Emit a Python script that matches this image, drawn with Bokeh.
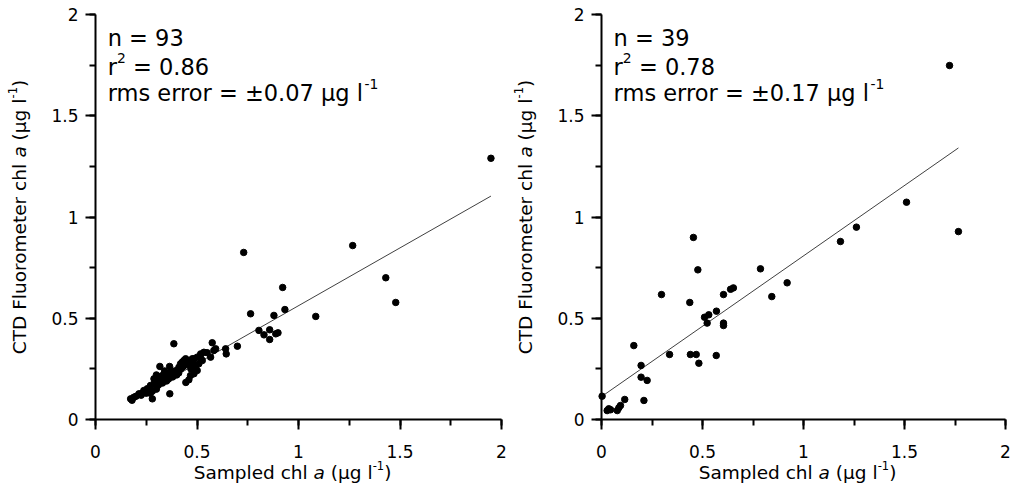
import math
from bokeh.plotting import figure
from bokeh.layouts import row
from bokeh.models import Label, SingleIntervalTicker, LinearAxis
from bokeh.embed import file_html
from bokeh.resources import INLINE

# ---------------- data ----------------
left_x = [1.948, 1.267, 1.430, 1.479, 1.085, 0.730, 0.922, 0.933, 0.879, 0.764,
          0.805, 0.830, 0.858, 0.858, 0.888, 0.899, 0.699, 0.641, 0.644, 0.575,
          0.583, 0.592, 0.567, 0.534, 0.518, 0.501, 0.485, 0.468, 0.526, 0.509,
          0.493, 0.477, 0.501, 0.485, 0.468, 0.493, 0.445, 0.460, 0.386, 0.317,
          0.365, 0.173, 0.189, 0.280, 0.366, 0.214, 0.238, 0.255, 0.271, 0.288,
          0.288, 0.304, 0.312, 0.329, 0.337, 0.353, 0.370, 0.386, 0.403, 0.411,
          0.419, 0.427, 0.435, 0.444, 0.460, 0.477, 0.180, 0.200, 0.225, 0.250,
          0.260, 0.270, 0.300, 0.310, 0.320, 0.330, 0.340, 0.350, 0.360, 0.380,
          0.390, 0.400, 0.420, 0.430, 0.450, 0.470, 0.550, 0.520, 0.300, 0.280,
          0.230, 0.340, 0.410]
left_y = [1.290, 0.859, 0.700, 0.578, 0.509, 0.825, 0.652, 0.543, 0.514, 0.522,
          0.440, 0.418, 0.443, 0.395, 0.423, 0.428, 0.362, 0.349, 0.324, 0.379,
          0.341, 0.349, 0.308, 0.332, 0.324, 0.308, 0.300, 0.291, 0.291, 0.275,
          0.267, 0.283, 0.242, 0.226, 0.217, 0.258, 0.183, 0.196, 0.374, 0.262,
          0.262, 0.102, 0.110, 0.102, 0.127, 0.127, 0.143, 0.152, 0.168, 0.176,
          0.201, 0.193, 0.209, 0.217, 0.201, 0.226, 0.234, 0.226, 0.242, 0.258,
          0.275, 0.283, 0.291, 0.300, 0.275, 0.300, 0.095, 0.115, 0.120, 0.130,
          0.140, 0.130, 0.150, 0.170, 0.190, 0.180, 0.210, 0.190, 0.200, 0.210,
          0.240, 0.220, 0.250, 0.260, 0.270, 0.250, 0.330, 0.300, 0.220, 0.140,
          0.130, 0.240, 0.230]

right_x = [0.003, 0.028, 0.036, 0.045, 0.078, 0.086, 0.094, 0.115, 0.160, 0.196,
           0.196, 0.210, 0.226, 0.297, 0.337, 0.437, 0.440, 0.455, 0.469, 0.477,
           0.482, 0.510, 0.523, 0.531, 0.568, 0.569, 0.604, 0.604, 0.604, 0.639,
           0.653, 0.787, 0.843, 0.919, 1.183, 1.262, 1.510, 1.723, 1.767]
right_y = [0.115, 0.044, 0.053, 0.048, 0.044, 0.058, 0.069, 0.099, 0.365, 0.267,
           0.209, 0.094, 0.193, 0.617, 0.321, 0.578, 0.321, 0.899, 0.321, 0.739,
           0.278, 0.505, 0.476, 0.517, 0.316, 0.535, 0.476, 0.464, 0.617, 0.643,
           0.650, 0.744, 0.607, 0.675, 0.879, 0.950, 1.073, 1.748, 0.928]

tick_values = [0, 0.5, 1, 1.5, 2]
tick_labels = ["0", "0.5", "1", "1.5", "2"]

left_n, left_r2, left_rms = "93", "0.86", "0.07"
right_n, right_r2, right_rms = "39", "0.78", "0.17"
left_slope, left_intercept = 0.571, -0.009
right_slope, right_intercept = 0.695, 0.113

x_title = [("Sampled chl ", "n"), ("a", "i"), (" (\u03bcg l", "n"), ("-1", "s"), (")", "n")]
y_title = [("CTD Fluorometer chl ", "n"), ("a", "i"), (" (\u03bcg l", "n"), ("-1", "s"), (")", "n")]

# ---------------- helpers ----------------
FONT = "DejaVu Sans"
WID = {" ": 0.318, "a": 0.613, "c": 0.550, "d": 0.635, "e": 0.615, "g": 0.635,
       "h": 0.634, "l": 0.278, "m": 0.974, "n": 0.634, "o": 0.612, "p": 0.635,
       "r": 0.411, "s": 0.521, "t": 0.392, "u": 0.634, "(": 0.390, ")": 0.390,
       "-": 0.361, ".": 0.318, "=": 0.838, "\u00b1": 0.838, "\u03bc": 0.644,
       "S": 0.635, "C": 0.698, "T": 0.611, "D": 0.770, "F": 0.575}
for d in "0123456789":
    WID[d] = 0.636


def tw(s, size):
    return sum(WID.get(c, 0.6) for c in s) * size


def rich(p, pieces, x, y, size, vertical=False, center=False, x_off=0, y_off=0):
    sup = 0.62
    raise_ = 0.38 * size
    fix = 0.34 * size          # rendered baseline sits a little low; lift it
    sizes = [size * sup if st == "s" else size for _, st in pieces]
    widths = [tw(t, fs) for (t, _), fs in zip(pieces, sizes)]
    pos = -sum(widths) / 2 if center else 0
    for (t, st), fs, w in zip(pieces, sizes, widths):
        lead = tw(t[: len(t) - len(t.lstrip())], fs)
        r = (raise_ if st == "s" else 0) + fix
        if vertical:
            xo, yo, ang = x_off - r, y_off + pos + lead, math.pi / 2
        else:
            xo, yo, ang = x_off + pos + lead, y_off + r, 0
        p.add_layout(Label(x=x, y=y, text=t.strip(),
                           x_offset=xo, y_offset=yo, angle=ang, text_font=FONT,
                           text_font_size=f"{fs:.1f}px",
                           text_font_style="italic" if st == "i" else "normal",
                           text_color="black", text_align="left",
                           text_baseline="alphabetic"))
        pos += w


HEIGHT = 486
Y0_PX, Y2_PX = 419, 14          # canvas pixel rows of y = 0 and y = 2


def panel(xs, ys, slope, intercept, n, r2, rms, width, x0_px, x2_px):
    kx = (x2_px - x0_px) / 2.0
    ky = (Y0_PX - Y2_PX) / 2.0
    xr = (-x0_px / kx, (width - x0_px) / kx)
    yr = (-(HEIGHT - Y0_PX) / ky, Y0_PX / ky)
    p = figure(width=width, height=HEIGHT, x_range=xr, y_range=yr,
               output_backend="svg", toolbar_location=None,
               x_axis_location=None, y_axis_location=None, min_border=0)
    p.outline_line_color = None
    p.grid.visible = False

    xaxis = LinearAxis(fixed_location=0, bounds=(0, 2))
    yaxis = LinearAxis(fixed_location=0, bounds=(0, 2))
    p.add_layout(xaxis, "below")
    p.add_layout(yaxis, "left")
    for ax in (xaxis, yaxis):
        ax.ticker = SingleIntervalTicker(interval=0.5, num_minor_ticks=2)
        ax.major_label_overrides = {v: s for v, s in zip(tick_values, tick_labels)}
        ax.axis_line_width = 2
        ax.axis_line_color = "black"
        ax.major_tick_in = 0
        ax.major_tick_out = 10
        ax.minor_tick_in = 0
        ax.minor_tick_out = 6
        ax.major_tick_line_width = 2
        ax.minor_tick_line_width = 2
        ax.major_tick_line_color = "black"
        ax.minor_tick_line_color = "black"
        ax.major_label_text_font = FONT
        ax.major_label_text_font_size = "17px"
        ax.major_label_text_color = "black"
    xaxis.major_label_standoff = 15
    yaxis.major_label_standoff = 7

    lx = [min(xs), max(xs)]
    ly = [slope * v + intercept for v in lx]
    p.line(lx, ly, line_width=1, line_color="#404040")
    p.scatter(xs, ys, size=6.5, fill_color="black", line_color="black")

    size = 22.5
    rich(p, [("n = " + n, "n")], 0.06, 1.847, size)
    rich(p, [("r", "n"), ("2", "s"), (" = " + r2, "n")], 0.06, 1.704, size)
    rich(p, [("rms error = \u00b1" + rms + " \u03bcg l", "n"), ("-1", "s")], 0.06, 1.575, size)

    rich(p, x_title, 1.0, 0.0, 18.5, center=True, x_off=-6, y_off=-59)
    rich(p, y_title, 0.0, 1.0, 18.5, vertical=True, center=True, x_off=-70)
    return p


p1 = panel(left_x, left_y, left_slope, left_intercept, left_n, left_r2, left_rms,
           509, 95, 501)
p2 = panel(right_x, right_y, right_slope, right_intercept, right_n, right_r2, right_rms,
           502, 92, 496)

layout = row(p1, p2)
open("out.html", "w").write(file_html(layout, INLINE))
